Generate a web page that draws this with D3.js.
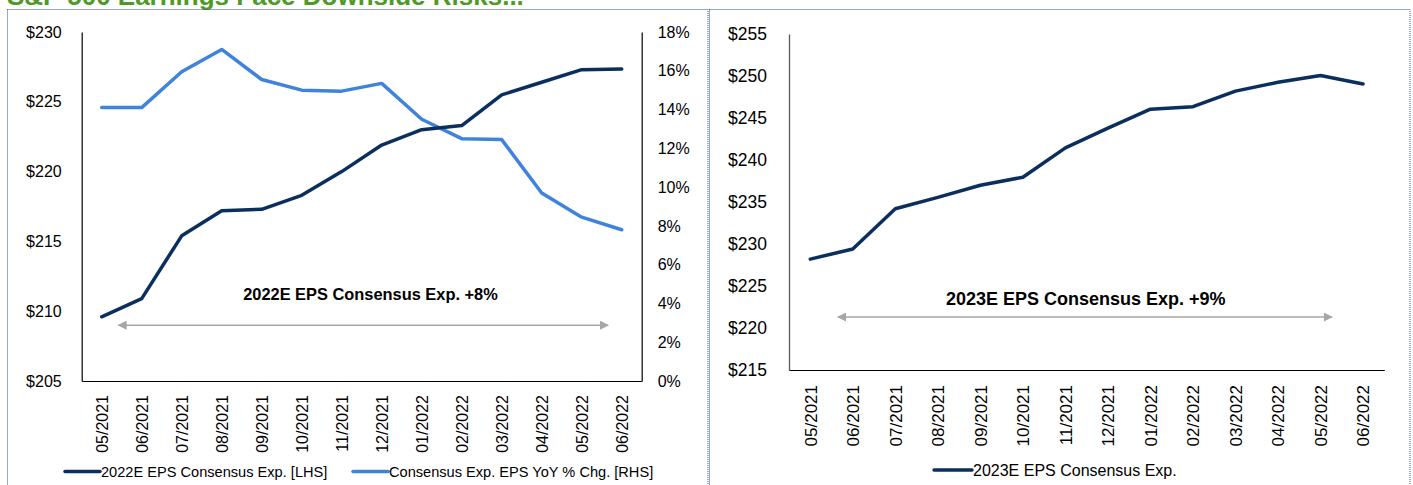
<!DOCTYPE html>
<html>
<head>
<meta charset="utf-8">
<script src="https://cdn.jsdelivr.net/npm/d3@7"></script>
<style>
  html, body { margin: 0; padding: 0; background: #fff; }
  svg { display: block; font-family: "Liberation Sans", Arial, sans-serif; }
</style>
</head>
<body>
<svg id="chart" width="1413" height="485"></svg>
<script>
// ---------------- DATA ----------------
const months = ["05/2021","06/2021","07/2021","08/2021","09/2021","10/2021","11/2021","12/2021","01/2022","02/2022","03/2022","04/2022","05/2022","06/2022"];
const eps2022 = [209.6, 210.9, 215.4, 217.2, 217.3, 218.3, 220.0, 221.9, 223.0, 223.3, 225.5, 226.4, 227.3, 227.35];
const epsYoY = [14.1, 14.1, 15.95, 17.1, 15.55, 15.0, 14.95, 15.35, 13.5, 12.5, 12.45, 9.7, 8.45, 7.8];
const eps2023 = [228.2, 229.4, 234.2, 235.55, 237.0, 237.95, 241.45, 243.8, 246.05, 246.35, 248.2, 249.25, 250.05, 249.05];
const lhsTicks = [205, 210, 215, 220, 225, 230];
const rhsTicks = [0, 2, 4, 6, 8, 10, 12, 14, 16, 18];
const rightTicks = [215, 220, 225, 230, 235, 240, 245, 250, 255];
const titleText = "S&P 500 Earnings Face Downside Risks...";
const legendLeft = ["2022E EPS Consensus Exp. [LHS]", "Consensus Exp. EPS YoY % Chg. [RHS]"];
const legendRight = ["2023E EPS Consensus Exp."];
const noteLeft = "2022E EPS Consensus Exp. +8%";
const noteRight = "2023E EPS Consensus Exp. +9%";

// ---------------- STYLE ----------------
const DARK = "#0A2F5E";
const LIGHT = "#3F83DC";
const GREEN = "#4E9A27";
const BORDER = "#2F5597";
const ARROW = "#A6A6A6";

const svg = d3.select("#chart");

// defs: arrowheads
const defs = svg.append("defs");
defs.append("marker").attr("id", "ah").attr("viewBox", "0 0 10 10")
  .attr("refX", 9).attr("refY", 5).attr("markerWidth", 7).attr("markerHeight", 6)
  .attr("markerUnits", "strokeWidth").attr("orient", "auto-start-reverse")
  .append("path").attr("d", "M0,0 L10,5 L0,10 Z").attr("fill", ARROW);

// title (mostly cut off at top, as in the reference)
svg.append("text").attr("x", 7).attr("y", 5)
  .attr("fill", GREEN).attr("font-weight", "bold").attr("font-size", 26)
  .text(titleText);

// panel borders
svg.append("rect").attr("x", 7.5).attr("y", 9.5).attr("width", 700.5).attr("height", 490)
  .attr("fill", "none").attr("stroke", BORDER).attr("stroke-width", 1).attr("stroke-dasharray", "1,1");
svg.append("rect").attr("x", 709.5).attr("y", 9.5).attr("width", 700.5).attr("height", 490)
  .attr("fill", "none").attr("stroke", BORDER).attr("stroke-width", 1).attr("stroke-dasharray", "1,1");

// ---------------- LEFT CHART ----------------
(function () {
  const x0 = 81.7, x1 = 641.7, yT = 32, yB = 381;
  const x = d3.scalePoint().domain(months).range([x0, x1]).padding(0.5);
  const yL = d3.scaleLinear().domain([205, 230]).range([yB, yT]);
  const yR = d3.scaleLinear().domain([0, 18]).range([yB, yT]);
  const g = svg.append("g");

  const la = g.append("g").attr("transform", `translate(${x0},0)`)
    .call(d3.axisLeft(yL).tickValues(lhsTicks).tickSize(0).tickSizeOuter(0).tickPadding(20)
      .tickFormat(d => "$" + d));
  la.select(".domain").attr("stroke", "#000").attr("stroke-width", 1.2);
  la.selectAll("text").attr("font-size", 16).attr("fill", "#000").attr("font-family", null);

  const ra = g.append("g").attr("transform", `translate(${x1},0)`)
    .call(d3.axisRight(yR).tickValues(rhsTicks).tickSize(0).tickSizeOuter(0).tickPadding(16)
      .tickFormat(d => d + "%"));
  ra.select(".domain").attr("stroke", "#000").attr("stroke-width", 1.2);
  ra.selectAll("text").attr("font-size", 16).attr("fill", "#000").attr("font-family", null);

  const ba = g.append("g").attr("transform", `translate(0,${yB})`)
    .call(d3.axisBottom(x).tickSize(0).tickSizeOuter(0));
  ba.select(".domain").attr("stroke", "#000").attr("stroke-width", 1.2);
  ba.selectAll("text").attr("font-size", 16).attr("fill", "#000").attr("font-family", null)
    .attr("transform", "rotate(-90)").attr("text-anchor", "end")
    .attr("x", -14).attr("y", 0).attr("dy", "0.35em");

  const lineL = d3.line().x((d, i) => x(months[i])).y(d => yL(d));
  const lineR = d3.line().x((d, i) => x(months[i])).y(d => yR(d));
  g.append("path").datum(epsYoY).attr("d", lineR).attr("fill", "none")
    .attr("stroke", LIGHT).attr("stroke-width", 3.5).attr("stroke-linejoin", "round").attr("stroke-linecap", "round");
  g.append("path").datum(eps2022).attr("d", lineL).attr("fill", "none")
    .attr("stroke", DARK).attr("stroke-width", 3.5).attr("stroke-linejoin", "round").attr("stroke-linecap", "round");

  const step = x.step();
  const ax = i => x(months[0]) + step * i;
  g.append("line").attr("x1", ax(0.42)).attr("x2", ax(12.66))
    .attr("y1", yL(209.0)).attr("y2", yL(209.0))
    .attr("stroke", ARROW).attr("stroke-width", 1.5)
    .attr("marker-start", "url(#ah)").attr("marker-end", "url(#ah)");
  g.append("text").attr("x", ax(6.72)).attr("y", yL(210.8))
    .attr("text-anchor", "middle").attr("font-weight", "bold").attr("font-size", 16.4)
    .text(noteLeft);

  const lg = g.append("g").attr("transform", "translate(0,471.5)");
  const items = [{ x: 65, c: DARK, t: legendLeft[0] }, { x: 353, c: LIGHT, t: legendLeft[1] }];
  items.forEach(it => {
    lg.append("line").attr("x1", it.x).attr("x2", it.x + 35).attr("y1", 0).attr("y2", 0)
      .attr("stroke", it.c).attr("stroke-width", 3.5).attr("stroke-linecap", "round");
    lg.append("text").attr("x", it.x + 36).attr("y", 0).attr("dy", "0.35em")
      .attr("font-size", 14.6).attr("fill", "#000").text(it.t);
  });
})();

// ---------------- RIGHT CHART ----------------
(function () {
  const x0 = 789, x1 = 1384.3, yT = 34, yB = 370;
  const x = d3.scalePoint().domain(months).range([x0, x1]).padding(0.5);
  const y = d3.scaleLinear().domain([215, 255]).range([yB, yT]);
  const g = svg.append("g");

  const la = g.append("g").attr("transform", `translate(${x0},0)`)
    .call(d3.axisLeft(y).tickValues(rightTicks).tickSize(0).tickSizeOuter(0).tickPadding(22)
      .tickFormat(d => "$" + d));
  la.select(".domain").attr("stroke", "#595959").attr("stroke-width", 1.3);
  la.selectAll("text").attr("font-size", 17.5).attr("fill", "#000").attr("font-family", null);

  const ba = g.append("g").attr("transform", `translate(0,${yB})`)
    .call(d3.axisBottom(x).tickSize(0).tickSizeOuter(0));
  ba.select(".domain").attr("stroke", "#000").attr("stroke-width", 1.2);
  ba.selectAll("text").attr("font-size", 17).attr("fill", "#000").attr("font-family", null)
    .attr("transform", "rotate(-90)").attr("text-anchor", "end")
    .attr("x", -15).attr("y", 0).attr("dy", "0.35em");

  const line = d3.line().x((d, i) => x(months[i])).y(d => y(d));
  g.append("path").datum(eps2023).attr("d", line).attr("fill", "none")
    .attr("stroke", DARK).attr("stroke-width", 3.5).attr("stroke-linejoin", "round").attr("stroke-linecap", "round");

  const step = x.step();
  const ax = i => x(months[0]) + step * i;
  g.append("line").attr("x1", ax(0.65)).attr("x2", ax(12.27))
    .attr("y1", y(221.3)).attr("y2", y(221.3))
    .attr("stroke", ARROW).attr("stroke-width", 1.5)
    .attr("marker-start", "url(#ah)").attr("marker-end", "url(#ah)");
  g.append("text").attr("x", ax(6.48)).attr("y", y(222.7))
    .attr("text-anchor", "middle").attr("font-weight", "bold").attr("font-size", 18)
    .text(noteRight);

  const lg = g.append("g").attr("transform", "translate(0,470)");
  lg.append("line").attr("x1", 934).attr("x2", 972).attr("y1", 0).attr("y2", 0)
    .attr("stroke", DARK).attr("stroke-width", 3.5).attr("stroke-linecap", "round");
  lg.append("text").attr("x", 973).attr("y", 0).attr("dy", "0.35em")
    .attr("font-size", 16).attr("fill", "#000").text(legendRight[0]);
})();
</script>
</body>
</html>
